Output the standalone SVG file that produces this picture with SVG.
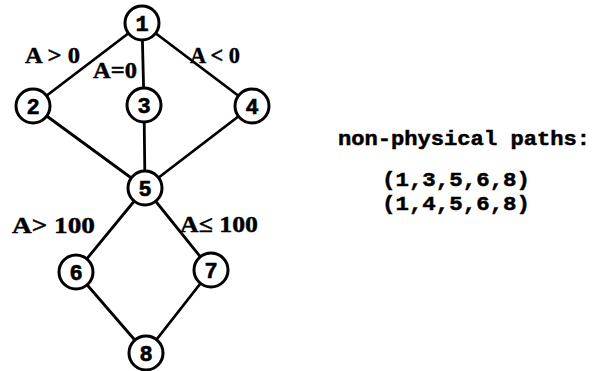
<svg xmlns="http://www.w3.org/2000/svg" width="598" height="371" viewBox="0 0 598 371">
<style>
.n circle{fill:#fff;stroke:#000;stroke-width:3}
.n text{font-family:"Liberation Mono",monospace;font-weight:bold;font-size:22px;text-anchor:middle;stroke:#000;stroke-width:0.6}
.e line{stroke:#000;stroke-width:2.8;stroke-linecap:round}
.l{font-family:"Liberation Serif",serif;font-weight:bold;font-size:23px;stroke:#000;stroke-width:0.4}
.t{font-family:"Liberation Mono",monospace;font-weight:bold;font-size:21px;stroke:#000;stroke-width:0.5}
</style>
<rect width="598" height="371" fill="#fff"/>
<g class="e" id="connectors">
<line x1="142" y1="23" x2="33" y2="106"/>
<line x1="142" y1="23" x2="144" y2="105"/>
<line x1="142" y1="23" x2="252" y2="106"/>
<line x1="33" y1="106" x2="145" y2="188"/>
<line x1="144" y1="105" x2="145" y2="188"/>
<line x1="252" y1="106" x2="145" y2="188"/>
<line x1="145" y1="188" x2="76" y2="272"/>
<line x1="145" y1="188" x2="211" y2="270"/>
<line x1="76" y1="272" x2="146" y2="353"/>
<line x1="211" y1="270" x2="146" y2="353"/>
</g>
<g class="n" id="n1"><circle cx="142" cy="23" r="17"/><text x="142" y="31">1</text></g>
<g class="n" id="n2"><circle cx="33" cy="106" r="17"/><text x="33" y="114">2</text></g>
<g class="n" id="n3"><circle cx="144" cy="105" r="17"/><text x="144" y="113">3</text></g>
<g class="n" id="n4"><circle cx="252" cy="106" r="17"/><text x="252" y="114">4</text></g>
<g class="n" id="n5"><circle cx="145" cy="188" r="17"/><text x="145" y="196">5</text></g>
<g class="n" id="n6"><circle cx="76" cy="272" r="17"/><text x="76" y="280">6</text></g>
<g class="n" id="n7"><circle cx="211" cy="270" r="17"/><text x="211" y="278">7</text></g>
<g class="n" id="n8"><circle cx="146" cy="353" r="17"/><text x="146" y="361">8</text></g>
<g id="labels">
<text class="l" x="25" y="63" textLength="55" lengthAdjust="spacingAndGlyphs">A &gt; 0</text>
<text class="l" x="93" y="78" textLength="44" lengthAdjust="spacingAndGlyphs">A=0</text>
<text class="l" x="190" y="63" textLength="50" lengthAdjust="spacingAndGlyphs">A &lt; 0</text>
<text class="l" x="12" y="233" textLength="83" lengthAdjust="spacingAndGlyphs">A&gt; 100</text>
<text class="l" x="180" y="232" textLength="78" lengthAdjust="spacingAndGlyphs">A≤ 100</text>
<text class="t" x="338" y="145" textLength="252" lengthAdjust="spacingAndGlyphs">non-physical paths:</text>
<text class="t" x="382" y="186" textLength="148" lengthAdjust="spacingAndGlyphs">(1,3,5,6,8)</text>
<text class="t" x="382" y="210" textLength="148" lengthAdjust="spacingAndGlyphs">(1,4,5,6,8)</text>
</g>
</svg>
